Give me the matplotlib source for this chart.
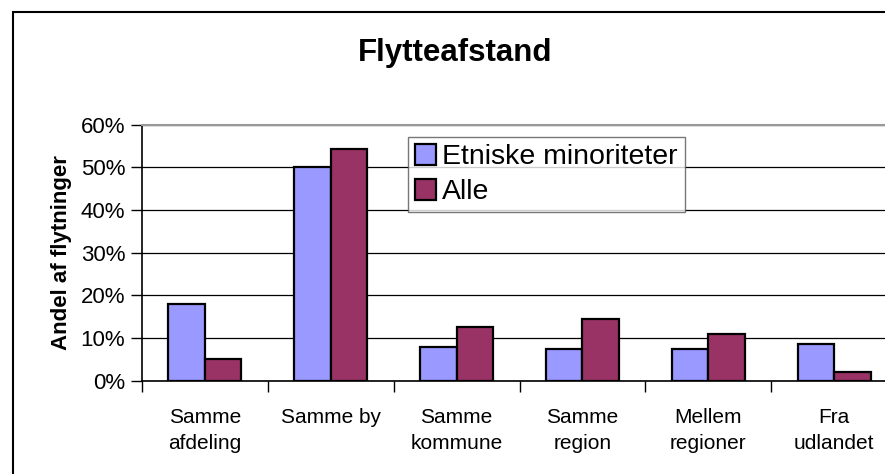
import matplotlib.pyplot as plt
import numpy as np
from matplotlib.patches import Rectangle

# Data
kategorier = ["Samme\nafdeling", "Samme by", "Samme\nkommune", "Samme\nregion",
              "Mellem\nregioner", "Fra\nudlandet"]
etniske = [0.18, 0.50, 0.078, 0.074, 0.074, 0.086]
alle = [0.05, 0.543, 0.126, 0.144, 0.109, 0.02]
serier = ["Etniske minoriteter", "Alle"]
farver = ["#9999FF", "#993366"]
yticks = [0, 0.1, 0.2, 0.3, 0.4, 0.5, 0.6]

plt.rcParams['font.family'] = ['Liberation Sans', 'DejaVu Sans']

fig = plt.figure(figsize=(8.85, 4.74), dpi=100)
ax = fig.add_axes([142 / 885, 93.3 / 474, 755 / 885, 256 / 474])

x = np.arange(len(kategorier))
w = 0.29
ax.bar(x - w / 2, etniske, w, color=farver[0], edgecolor='black', linewidth=1.6,
       label=serier[0], zorder=3)
ax.bar(x + w / 2, alle, w, color=farver[1], edgecolor='black', linewidth=1.6,
       label=serier[1], zorder=3)

ax.set_xlim(-0.5, len(kategorier) - 0.5)
ax.set_ylim(0, 0.6)
ax.set_yticks(yticks)
ax.set_yticklabels([f"{int(round(t * 100))}%" for t in yticks], fontsize=16)
ax.yaxis.grid(True, color='black', linewidth=0.9, zorder=0)

# kategori-labels mellem tick-markeringer
ax.set_xticks(np.arange(len(kategorier) + 1) - 0.5)
ax.set_xticklabels([])
ax.set_xticks(x, minor=True)
ax.set_xticklabels(kategorier, minor=True, fontsize=15, linespacing=1.45)
ax.tick_params(axis='x', which='minor', length=0, pad=20)
ax.tick_params(axis='x', which='major', length=8, width=1, direction='out')
ax.tick_params(axis='y', length=8, width=1, direction='out', pad=4)

ax.spines['right'].set_visible(False)
ax.spines['top'].set_color('#999999')
ax.spines['top'].set_linewidth(1.5)
ax.spines['left'].set_linewidth(1.2)
ax.spines['bottom'].set_linewidth(1.2)

ax.set_ylabel("Andel af flytninger", fontsize=16, fontweight='bold', labelpad=6)

fig.text(455 / 885, 1 - 53 / 474, "Flytteafstand", fontsize=22.5, fontweight='bold',
         ha='center', va='center')

leg = fig.legend(loc='upper left', bbox_to_anchor=(408 / 885, 1 - 137 / 474),
                 fontsize=20.5, frameon=True, fancybox=False, edgecolor='#555555',
                 handlelength=0.75, handleheight=0.75, handletextpad=0.2,
                 borderpad=0.25, labelspacing=0.3, borderaxespad=0)
leg.get_frame().set_linewidth(1.0)

# ydre ramme
fig.patches.append(Rectangle((12.5 / 885, -0.1), 2, 1.1 - 12 / 474, transform=fig.transFigure,
                             fill=False, edgecolor='black', linewidth=1.5))

fig.savefig("out.png", dpi=100)
